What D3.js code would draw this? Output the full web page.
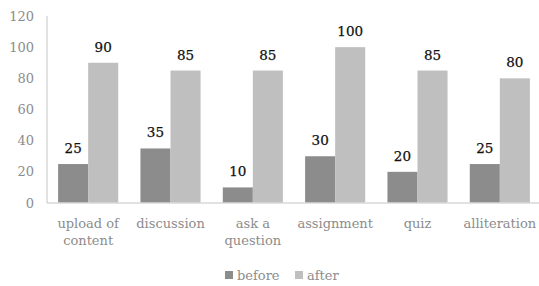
<!DOCTYPE html>
<html>
<head>
<meta charset="utf-8">
<script src="https://cdn.jsdelivr.net/npm/d3@7"></script>
<style>
  body { margin: 0; background: #fff; }
</style>
</head>
<body>
<div id="chart"></div>
<script>
// chart data
const categories = [["upload of", "content"], ["discussion"], ["ask a", "question"], ["assignment"], ["quiz"], ["alliteration"]];
const seriesNames = ["before", "after"];
const before = [25, 35, 10, 30, 20, 25];
const after = [90, 85, 85, 100, 85, 80];
const yTicks = [0, 20, 40, 60, 80, 100, 120];

const width = 539, height = 286;
const margin = { top: 16, right: -2, bottom: 83, left: 47 };
const colors = ["#8c8c8c", "#bfbfbf"];
const fontFam = '"DejaVu Serif", serif';

const svg = d3.select("#chart").append("svg")
  .attr("width", width)
  .attr("height", height)
  .style("font-family", fontFam);

const x = d3.scaleBand()
  .domain(categories.map((d, i) => i))
  .range([margin.left, width - margin.right])
  .paddingInner(0.27)
  .paddingOuter(0.135);

const x1 = d3.scaleBand()
  .domain(seriesNames)
  .range([0, x.bandwidth()]);

const y = d3.scaleLinear()
  .domain([0, 120])
  .range([height - margin.bottom, margin.top]);

// y axis line + labels
svg.append("line")
  .attr("x1", margin.left).attr("x2", margin.left)
  .attr("y1", y(120)).attr("y2", y(0))
  .attr("stroke", "#d9d9d9").attr("stroke-width", 1.5);

svg.selectAll(".ytick")
  .data(yTicks)
  .enter().append("text")
  .attr("x", 34)
  .attr("y", d => y(d))
  .attr("dy", "0.35em")
  .attr("text-anchor", "end")
  .style("font-size", "13px")
  .style("fill", "#8c8c8c")
  .text(d => d);

const rows = categories.map((c, i) => ({ i: i, vals: [before[i], after[i]] }));

const groups = svg.selectAll(".grp")
  .data(rows)
  .enter().append("g")
  .attr("transform", d => "translate(" + x(d.i) + ",0)");

groups.selectAll("rect")
  .data(d => d.vals.map((v, k) => ({ k: k, v: v })))
  .enter().append("rect")
  .attr("x", d => x1(seriesNames[d.k]))
  .attr("width", x1.bandwidth())
  .attr("y", d => y(d.v))
  .attr("height", d => y(0) - y(d.v))
  .attr("fill", d => colors[d.k]);

groups.selectAll(".val")
  .data(d => d.vals.map((v, k) => ({ k: k, v: v })))
  .enter().append("text")
  .attr("x", d => x1(seriesNames[d.k]) + x1.bandwidth() / 2)
  .attr("y", d => y(d.v) - 11)
  .attr("text-anchor", "middle")
  .style("font-size", "13.5px")
  .style("fill", "#111")
  .style("stroke", "#111")
  .style("stroke-width", "0.25px")
  .text(d => d.v);

// x axis line
svg.append("line")
  .attr("x1", margin.left).attr("x2", width)
  .attr("y1", y(0)).attr("y2", y(0))
  .attr("stroke", "#d9d9d9").attr("stroke-width", 1.5);

// category labels
const catLabels = svg.selectAll(".cat")
  .data(categories)
  .enter().append("text")
  .attr("text-anchor", "middle")
  .attr("transform", (d, i) => "translate(" + (x(i) + x.bandwidth() / 2) + "," + (y(0) + 25) + ")")
  .style("font-size", "13px")
  .style("fill", "#8c8c8c");

catLabels.selectAll("tspan")
  .data(d => d)
  .enter().append("tspan")
  .attr("x", 0)
  .attr("y", (d, i) => i * 17)
  .text(d => d);

// legend
const legend = svg.append("g")
  .attr("transform", "translate(225,275)");

const legendX = [0, 70];
seriesNames.forEach((name, k) => {
  legend.append("rect")
    .attr("x", legendX[k])
    .attr("y", -4)
    .attr("width", 8).attr("height", 8)
    .attr("fill", colors[k]);
  legend.append("text")
    .attr("x", legendX[k] + 12)
    .attr("y", 0)
    .attr("dy", "0.35em")
    .style("font-size", "13px")
    .style("fill", "#8c8c8c")
    .text(name);
});
</script>
</body>
</html>
